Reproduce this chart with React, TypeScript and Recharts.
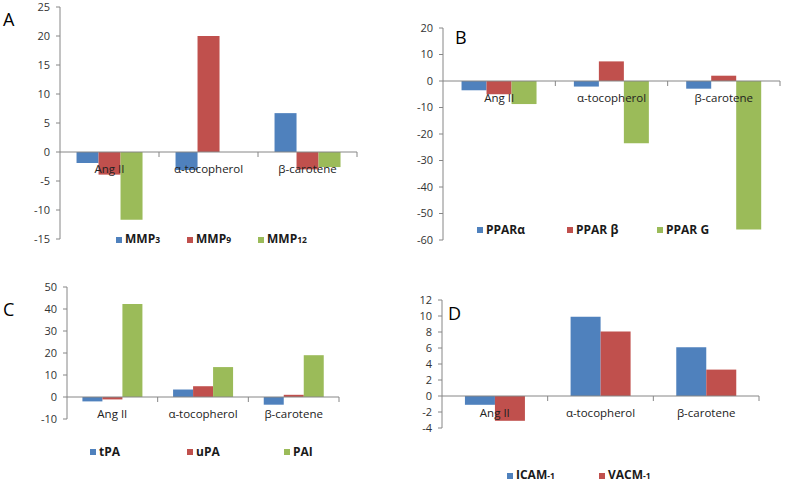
import React from 'react';
import { BarChart, Bar, XAxis, YAxis, ReferenceLine, Legend } from 'recharts';

// categories shared by all four panels
const CATEGORIES = ['Ang II', 'α-tocopherol', 'β-carotene'];

// Panel A – MMPs
const MMP3 = [-1.9, -3.1, 6.7];
const MMP9 = [-3.9, 20, -3.0];
const MMP12 = [-11.7, 0, -2.6];

// Panel B – PPARs
const PPAR_A = [-3.5, -2.1, -2.9];
const PPAR_B = [-5.0, 7.4, 2.0];
const PPAR_G = [-8.7, -23.5, -56];

// Panel C – plasminogen system
const TPA = [-2.0, 3.4, -3.5];
const UPA = [-1.1, 4.9, 1.0];
const PAI = [42.3, 13.6, 19.0];

// Panel D – adhesion molecules
const ICAM = [-1.1, 9.9, 6.1];
const VACM = [-3.1, 8.05, 3.3];

const TICKS_A = [-15, -10, -5, 0, 5, 10, 15, 20, 25];
const TICKS_B = [-60, -50, -40, -30, -20, -10, 0, 10, 20];
const TICKS_C = [-10, 0, 10, 20, 30, 40, 50];
const TICKS_D = [-4, -2, 0, 2, 4, 6, 8, 10, 12];

const BLUE = '#4F81BD';
const RED = '#C0504D';
const GREEN = '#9BBB59';
const AXIS = '#868686';
const TEXT = '#333333';
const FONT = '"Open Sans", "Liberation Sans", sans-serif';

interface SeriesDef {
  key: string;
  values: number[];
  color: string;
  label: string;
  sub?: string;
}

const buildRows = (series: SeriesDef[]) =>
  CATEGORIES.map((name, i) => {
    const row: Record<string, any> = { name };
    series.forEach((s) => (row[s.key] = s.values[i]));
    return row;
  });

/** Excel-style category axis drawn along the zero line */
const ZeroAxis = (props: any) => {
  const { viewBox } = props;
  if (!viewBox) return null;
  const { x, y, width } = viewBox;
  const step = width / CATEGORIES.length;
  return (
    <g>
      {CATEGORIES.map((c, i) => (
        <line key={`t-${i}`} x1={x + step * (i + 1)} x2={x + step * (i + 1)} y1={y} y2={y + 5} stroke={AXIS} />
      ))}
      {CATEGORIES.map((c, i) => (
        <text
          key={c}
          x={x + step * (i + 0.5)}
          y={y + 21}
          textAnchor="middle"
          fill="#222"
          fontSize={11.5}
          fontFamily={FONT}
        >
          {c}
        </text>
      ))}
    </g>
  );
};

const makeLegend = (series: SeriesDef[], spacing: number) => () => (
  <div style={{ display: 'flex', fontFamily: FONT, color: '#1a1a1a', lineHeight: '14px' }}>
    {series.map((s) => (
      <div key={s.key} style={{ width: spacing, display: 'flex', alignItems: 'center' }}>
        <span style={{ width: 6, height: 6, background: s.color, marginRight: 3, display: 'inline-block' }} />
        <span style={{ fontWeight: 700, fontSize: 12 }}>
          {s.label}
          {s.sub && <span style={{ fontSize: 8.5 }}>{s.sub}</span>}
        </span>
      </div>
    ))}
  </div>
);

interface PanelProps {
  letter: string;
  letterPos: { left: number; top: number };
  left: number;
  top: number;
  width: number;
  height: number;
  margin: { top: number; right: number; bottom: number };
  yWidth: number;
  ticks: number[];
  series: SeriesDef[];
  gap: string;
  legendPos: { left: number; top: number };
  legendSpacing: number;
}

const Panel: React.FC<PanelProps> = ({
  letter,
  letterPos,
  left,
  top,
  width,
  height,
  margin,
  yWidth,
  ticks,
  series,
  gap,
  legendPos,
  legendSpacing,
}) => {
  const rows = buildRows(series);
  const domain: [number, number] = [ticks[0], ticks[ticks.length - 1]];
  return (
    <div style={{ position: 'absolute', left, top, width, height }}>
      <BarChart
        width={width}
        height={height}
        data={rows}
        margin={{ ...margin, left: 0 }}
        barCategoryGap={gap}
        barGap={0}
        style={{ overflow: 'visible' }}
      >
        <XAxis dataKey="name" hide />
        <YAxis
          width={yWidth}
          domain={domain}
          ticks={ticks}
          interval={0}
          allowDataOverflow
          axisLine={{ stroke: AXIS }}
          tickLine={{ stroke: AXIS }}
          tickSize={4}
          tickMargin={6}
          tick={{ fill: TEXT, fontSize: 11, fontFamily: FONT }}
        />
        {series.map((s) => (
          <Bar key={s.key} dataKey={s.key} fill={s.color} isAnimationActive={false} />
        ))}
        <Legend
          layout="horizontal"
          verticalAlign="middle"
          align="center"
          content={makeLegend(series, legendSpacing)}
          wrapperStyle={{ left: legendPos.left, top: legendPos.top, width: 'auto' }}
        />
      </BarChart>
      {/* overlay: zero-line category axis drawn above the bars, like Excel */}
      <div style={{ position: 'absolute', left: 0, top: 0, pointerEvents: 'none' }}>
        <BarChart width={width} height={height} data={rows} margin={{ ...margin, left: 0 }}>
          <XAxis dataKey="name" hide />
          <YAxis
            width={yWidth}
            domain={domain}
            ticks={ticks}
            allowDataOverflow
            axisLine={false}
            tickLine={false}
            tick={false}
          />
          <ReferenceLine y={0} stroke={AXIS} label={<ZeroAxis />} />
        </BarChart>
      </div>
      <div
        style={{
          position: 'absolute',
          left: letterPos.left,
          top: letterPos.top,
          fontFamily: FONT,
          fontSize: 18,
          lineHeight: '18px',
          color: '#000',
        }}
      >
        {letter}
      </div>
    </div>
  );
};

const SERIES_A: SeriesDef[] = [
  { key: 'mmp3', values: MMP3, color: BLUE, label: 'MMP', sub: '3' },
  { key: 'mmp9', values: MMP9, color: RED, label: 'MMP', sub: '9' },
  { key: 'mmp12', values: MMP12, color: GREEN, label: 'MMP', sub: '12' },
];
const SERIES_B: SeriesDef[] = [
  { key: 'ppara', values: PPAR_A, color: BLUE, label: 'PPARα' },
  { key: 'pparb', values: PPAR_B, color: RED, label: 'PPAR β' },
  { key: 'pparg', values: PPAR_G, color: GREEN, label: 'PPAR G' },
];
const SERIES_C: SeriesDef[] = [
  { key: 'tpa', values: TPA, color: BLUE, label: 'tPA' },
  { key: 'upa', values: UPA, color: RED, label: 'uPA' },
  { key: 'pai', values: PAI, color: GREEN, label: 'PAI' },
];
const SERIES_D: SeriesDef[] = [
  { key: 'icam', values: ICAM, color: BLUE, label: 'ICAM', sub: '-1' },
  { key: 'vacm', values: VACM, color: RED, label: 'VACM', sub: '-1' },
];

export default function App() {
  return (
    <div style={{ position: 'absolute', left: 0, top: 0, width: 787, height: 483, background: '#fff' }}>
      <Panel
        letter="A"
        letterPos={{ left: 3, top: 10 }}
        left={0}
        top={0}
        width={400}
        height={245}
        margin={{ top: 7, right: 43, bottom: 6 }}
        yWidth={60}
        ticks={TICKS_A}
        series={SERIES_A}
        gap="16.7%"
        legendPos={{ left: 116, top: 232 }}
        legendSpacing={71}
      />
      <Panel
        letter="B"
        letterPos={{ left: 55, top: 28 }}
        left={400}
        top={0}
        width={387}
        height={250}
        margin={{ top: 28, right: 7, bottom: 10 }}
        yWidth={43}
        ticks={TICKS_B}
        series={SERIES_B}
        gap="16.5%"
        legendPos={{ left: 77, top: 223 }}
        legendSpacing={90}
      />
      <Panel
        letter="C"
        letterPos={{ left: 3, top: 40 }}
        left={0}
        top={260}
        width={400}
        height={223}
        margin={{ top: 27, right: 61, bottom: 64 }}
        yWidth={67}
        ticks={TICKS_C}
        series={SERIES_C}
        gap="17%"
        legendPos={{ left: 90, top: 185 }}
        legendSpacing={97}
      />
      <Panel
        letter="D"
        letterPos={{ left: 48, top: 44 }}
        left={400}
        top={260}
        width={387}
        height={223}
        margin={{ top: 40, right: 28, bottom: 55 }}
        yWidth={42}
        ticks={TICKS_D}
        series={SERIES_D}
        gap="21.7%"
        legendPos={{ left: 107, top: 208 }}
        legendSpacing={92}
      />
    </div>
  );
}
